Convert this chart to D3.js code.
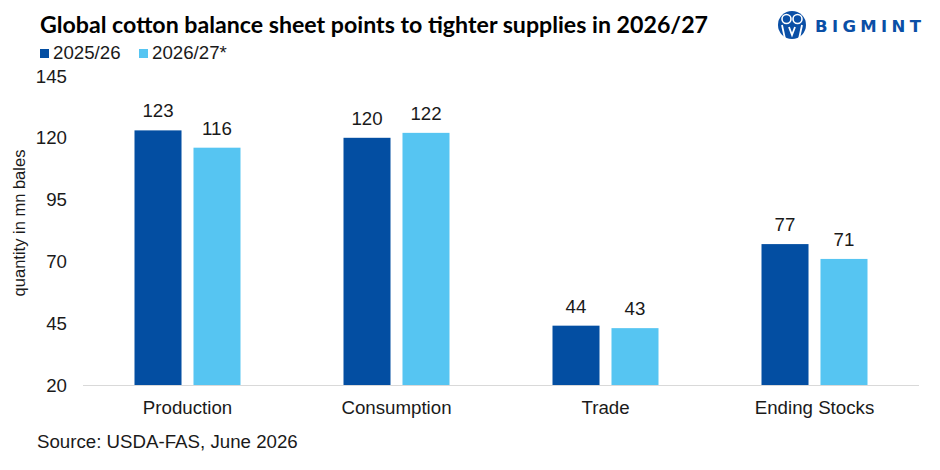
<!DOCTYPE html>
<html>
<head>
<meta charset="utf-8">
<script src="https://cdn.jsdelivr.net/npm/d3@7"></script>
<style>
  body { margin: 0; background: #fff; }
  svg { display: block; }
  text { font-family: "Liberation Sans", Arial, sans-serif; fill: #1a1a1a; }
</style>
</head>
<body>
<svg id="chart" width="940" height="470"></svg>
<script>
// data
var categories = ["Production", "Consumption", "Trade", "Ending Stocks"]
var seriesNames = ["2025/26", "2026/27*"]
var values2025 = [123, 120, 44, 77]
var values2026 = [116, 122, 43, 71]
var yTicks = [20, 45, 70, 95, 120, 145]

var colors = ["#034ea2", "#56c5f2"]
var fs = "18.7px"

var svg = d3.select("#chart")

var x0 = d3.scaleBand().domain(categories).range([83, 919]).paddingInner(0).paddingOuter(0)
var x1 = d3.scaleBand().domain(seriesNames).range([51.5, 157.5]).paddingInner(0.203).paddingOuter(0)
var y = d3.scaleLinear().domain([20, 145]).range([385, 76])

var rows = categories.map(function(c, i) {
  return { cat: c, vals: [values2025[i], values2026[i]] }
})

// title
svg.append("text")
  .attr("x", 40).attr("y", 33)
  .attr("textLength", 668).attr("lengthAdjust", "spacingAndGlyphs")
  .style("font-family", "Lato, 'Open Sans', sans-serif")
  .style("font-weight", "bold").style("font-size", "22px")
  .style("fill", "#000")
  .text("Global cotton balance sheet points to tighter supplies in 2026/27")

// logo
var logo = svg.append("g").attr("transform", "translate(792,25)")
logo.append("circle").attr("r", 14).attr("fill", "#0a4fa6")
logo.append("circle").attr("cx", -5.5).attr("cy", -6).attr("r", 4.5)
  .attr("fill", "#0a4fa6").attr("stroke", "#fff").attr("stroke-width", 1.6)
logo.append("circle").attr("cx", 5.5).attr("cy", -6).attr("r", 4.5)
  .attr("fill", "#0a4fa6").attr("stroke", "#fff").attr("stroke-width", 1.6)
logo.append("path")
  .attr("d", "M-10,0 L-7,14 M10,0 L7,14 M-3,2 L0,10 L3,2")
  .attr("stroke", "#fff").attr("stroke-width", 1.8).attr("fill", "none")
svg.append("text")
  .attr("x", 815).attr("y", 31.5)
  .attr("textLength", 106).attr("lengthAdjust", "spacing")
  .style("font-family", "'DejaVu Sans', sans-serif")
  .style("font-weight", "bold").style("font-size", "16.5px")
  .style("fill", "#0a4fa6")
  .text("BIGMINT")

// legend
var legend = svg.append("g")
seriesNames.forEach(function(s, i) {
  var lx = [40, 139][i]
  legend.append("rect").attr("x", lx).attr("y", 49).attr("width", 9).attr("height", 9).attr("fill", colors[i])
  legend.append("text").attr("x", lx + 13).attr("y", 59).style("font-size", fs).text(s)
})

// y axis labels
svg.append("g").selectAll("text")
  .data(yTicks).join("text")
  .attr("x", 67).attr("y", function(d) { return y(d) + 6.5 })
  .attr("text-anchor", "end").style("font-size", fs)
  .text(function(d) { return d })

svg.append("text")
  .attr("transform", "translate(25,223) rotate(-90)")
  .attr("text-anchor", "middle").style("font-size", "16.5px")
  .text("quantity in mn bales")

// bars
var groups = svg.append("g").selectAll("g")
  .data(rows).join("g")
  .attr("transform", function(d) { return "translate(" + x0(d.cat) + ",0)" })

groups.selectAll("rect")
  .data(function(d) { return d.vals.map(function(v, i) { return { s: seriesNames[i], v: v, i: i } }) })
  .join("rect")
  .attr("x", function(d) { return x1(d.s) })
  .attr("width", x1.bandwidth())
  .attr("y", function(d) { return y(d.v) })
  .attr("height", function(d) { return y(20) - y(d.v) })
  .attr("fill", function(d) { return colors[d.i] })

groups.selectAll("text.val")
  .data(function(d) { return d.vals.map(function(v, i) { return { s: seriesNames[i], v: v } }) })
  .join("text").attr("class", "val")
  .attr("x", function(d) { return x1(d.s) + x1.bandwidth() / 2 })
  .attr("y", function(d) { return y(d.v) - 13 })
  .attr("text-anchor", "middle").style("font-size", fs)
  .text(function(d) { return d.v })

// baseline
svg.append("line")
  .attr("x1", 83).attr("x2", 919).attr("y1", 385.5).attr("y2", 385.5)
  .attr("stroke", "#d9d9d9").attr("stroke-width", 1)

// category labels
svg.append("g").selectAll("text")
  .data(categories).join("text")
  .attr("x", function(d) { return x0(d) + x0.bandwidth() / 2 })
  .attr("y", 414).attr("text-anchor", "middle").style("font-size", fs)
  .text(function(d) { return d })

// source
svg.append("text").attr("x", 37).attr("y", 448).style("font-size", fs)
  .text("Source: USDA-FAS, June 2026")
</script>
</body>
</html>
